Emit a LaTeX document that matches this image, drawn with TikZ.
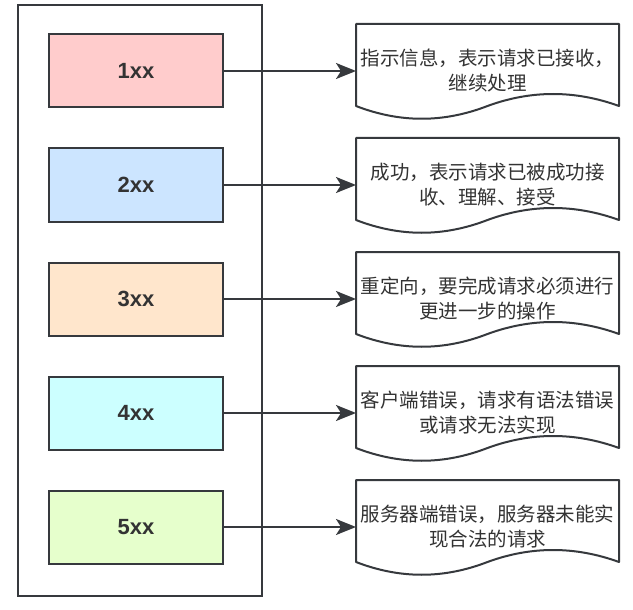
\documentclass[tikz,border=0pt]{standalone}
\usepackage{fontspec}
\setmainfont{Liberation Sans}
\newfontfamily\cjkfont{Noto Sans CJK SC}
\usepackage{tikz}
\usetikzlibrary{arrows.meta,positioning,fit,calc}
\usepackage{xcolor}

\definecolor{linegray}{HTML}{36393D}
\definecolor{textgray}{HTML}{333333}
\definecolor{fillred}{HTML}{FFCCCC}
\definecolor{fillblue}{HTML}{CCE5FF}
\definecolor{fillorange}{HTML}{FFE6CC}
\definecolor{fillcyan}{HTML}{CCFFFF}
\definecolor{fillgreen}{HTML}{E6FFCC}

\begin{document}
\begin{tikzpicture}[
            x=1pt, y=1pt,
            node distance=39pt and 132pt,
            block/.style={rectangle, draw=linegray, line width=2pt, minimum width=174pt, minimum height=73pt, text=textgray, font=\fontsize{22}{26}\selectfont\bfseries},
            docnote/.style={rectangle, inner sep=0pt, outer sep=0pt, minimum width=263pt, minimum height=94pt, align=center, text=textgray, font=\cjkfont\fontsize{19.5}{25}\selectfont},
            docline/.style={draw=linegray, line width=2pt, line join=round},
            frame/.style={rectangle, draw=linegray, line width=2pt, outer sep=0pt},
            arrow/.style={-{Stealth[length=20pt, width=16pt, inset=5pt]}, draw=linegray, line width=2pt}
        ]
            \useasboundingbox (0,0) rectangle (633,-610);

            % Status classes
            \node[block, fill=fillred] (b1) at (136,-71) {1xx};
            \node[block, fill=fillblue, below=of b1] (b2) {2xx};
            \node[block, fill=fillorange, below=of b2] (b3) {3xx};
            \node[block, fill=fillcyan, below=of b3] (b4) {4xx};
            \node[block, fill=fillgreen, below=of b4] (b5) {5xx};

            % Frame round the classes
            \node[frame, fit=(b1)(b5), inner xsep=34pt, inner ysep=30pt, xshift=4pt, yshift=-1.5pt] (group) {};

            % Descriptions
            \node[docnote, right=of b1] (d1) {指示信息，表示请求已接收，\\继续处理};
            \node[docnote, right=of b2] (d2) {成功，表示请求已被成功接\\收、理解、接受};
            \node[docnote, right=of b3] (d3) {重定向，要完成请求必须进行\\更进一步的操作};
            \node[docnote, right=of b4] (d4) {客户端错误，请求有语法错误\\或请求无法实现};
            \node[docnote, right=of b5] (d5) {服务器端错误，服务器未能实\\现合法的请求};

            % Document outlines
            \foreach \d in {d1,d2,d3,d4,d5}
                \draw[docline] (\d.north west) -- (\d.north east) -- ([yshift=12pt]\d.south east)
                    .. controls ([xshift=-44pt, yshift=28pt]\d.south east) and ([xshift=-88pt, yshift=28pt]\d.south east) .. ([yshift=12pt]\d.south)
                    .. controls ([xshift=-44pt, yshift=-5pt]\d.south) and ([xshift=44pt, yshift=-5pt]\d.south west) .. ([yshift=12pt]\d.south west)
                    -- cycle;

            % Arrows
            \draw[arrow] (b1) -- (d1);
            \draw[arrow] (b2) -- (d2);
            \draw[arrow] (b3) -- (d3);
            \draw[arrow] (b4) -- (d4);
            \draw[arrow] (b5) -- (d5);
        \end{tikzpicture}
\end{document}
